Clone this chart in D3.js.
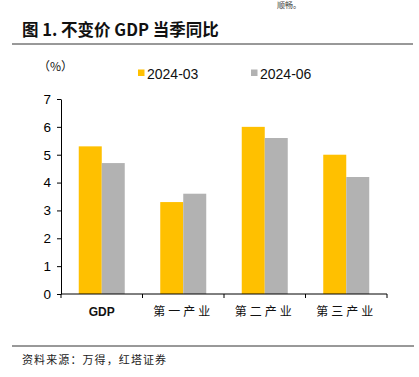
<!DOCTYPE html>
<html>
<head>
<meta charset="utf-8">
<script src="https://cdn.jsdelivr.net/npm/d3@7"></script>
<style>
  body { margin: 0; background: #fff; }
  svg { display: block; font-family: "Liberation Sans", Arial, sans-serif; }
</style>
</head>
<body>
<div id="chart"></div>
<script>
const categories = ["GDP", "第一产业", "第二产业", "第三产业"];
const seriesNames = ["2024-03", "2024-06"];
const q1Values = [5.3, 3.3, 6.0, 5.0];
const q2Values = [4.7, 3.6, 5.6, 4.2];
const yTicks = [0, 1, 2, 3, 4, 5, 6, 7];
const colors = ["#FFC000", "#B2B2B2"];

const W = 419, H = 377;
const svg = d3.select("#chart").append("svg")
    .attr("width", W)
    .attr("height", H);

// header
svg.append("text")
    .attr("x", 277).attr("y", 8)
    .attr("font-family", "Noto Sans CJK SC")
    .attr("font-size", 8).attr("fill", "#444")
    .text("顺畅。");

svg.append("text")
    .attr("x", 22).attr("y", 36)
    .attr("font-family", "Noto Sans CJK SC")
    .attr("font-weight", "bold")
    .attr("font-size", 16.5).attr("fill", "#111")
    .text("图 1. 不变价 GDP 当季同比");

svg.append("line")
    .attr("x1", 12).attr("x2", 413)
    .attr("y1", 44).attr("y2", 44)
    .attr("stroke", "#333").attr("stroke-width", 1);

const x0 = d3.scaleBand().domain(categories).range([61, 387]).paddingInner(0).paddingOuter(0);
const x1 = d3.scaleBand().domain(seriesNames).range([0, 46]);
const y = d3.scaleLinear().domain([0, 7]).range([294, 99]);

const g = svg.append("g");

// bars
const data = categories.map((c, i) => ({cat: c, vals: [q1Values[i], q2Values[i]]}));
const groups = g.selectAll(".grp").data(data).enter().append("g")
    .attr("transform", d => `translate(${x0(d.cat) + (x0.bandwidth() - 46) / 2},0)`);
groups.selectAll("rect").data(d => d.vals.map((v, j) => ({name: seriesNames[j], v, j})))
    .enter().append("rect")
    .attr("x", d => x1(d.name))
    .attr("width", x1.bandwidth())
    .attr("y", d => y(d.v))
    .attr("height", d => y(0) - y(d.v))
    .attr("fill", d => colors[d.j]);

// y axis
const yAxis = g.append("g")
    .attr("transform", "translate(61,0)")
    .call(d3.axisLeft(y).tickValues(yTicks).tickSize(4).tickSizeOuter(0).tickFormat(d3.format("d")));
yAxis.select(".domain").attr("stroke", "#000");
yAxis.selectAll(".tick line").attr("stroke", "#000");
yAxis.selectAll(".tick text").attr("font-size", 13.5).attr("fill", "#000").attr("x", -10);

// x axis
const xAxis = g.append("g").attr("transform", "translate(0,294)");
xAxis.append("line").attr("x1", 61).attr("x2", 387).attr("stroke", "#000");
const boundaries = categories.map(c => x0(c)).concat([x0.range()[1]]);
xAxis.selectAll(".xt").data(boundaries).enter().append("line")
    .attr("x1", d => d).attr("x2", d => d)
    .attr("y1", 0).attr("y2", 4)
    .attr("stroke", "#000");
xAxis.selectAll(".xl").data(categories).enter().append("text")
    .attr("x", d => x0(d) + x0.bandwidth() / 2)
    .attr("y", 22)
    .attr("text-anchor", "middle")
    .attr("font-size", 12)
    .attr("font-family", d => d === "GDP" ? "Liberation Sans Narrow, Liberation Sans" : "Noto Sans CJK SC")
    .attr("font-weight", d => d === "GDP" ? "bold" : "normal")
    .attr("letter-spacing", d => d === "GDP" ? 0 : 3)
    .attr("fill", "#111")
    .text(d => d);

// unit label
svg.append("text")
    .attr("x", 38).attr("y", 71)
    .attr("font-family", "Noto Sans CJK SC")
    .attr("font-size", 12).attr("fill", "#111")
    .text("（%）");

// legend
const legendX = [138, 251];
seriesNames.forEach((n, i) => {
    svg.append("rect")
        .attr("x", legendX[i]).attr("y", 69.5)
        .attr("width", 6.5).attr("height", 6.5)
        .attr("fill", colors[i]);
    svg.append("text")
        .attr("x", legendX[i] + 9).attr("y", 78.5)
        .attr("font-size", 14).attr("fill", "#111")
        .text(n);
});

// footer
svg.append("line")
    .attr("x1", 12).attr("x2", 414)
    .attr("y1", 346).attr("y2", 346)
    .attr("stroke", "#333").attr("stroke-width", 1);
svg.append("text")
    .attr("x", 22).attr("y", 364)
    .attr("font-family", "Noto Sans CJK SC")
    .attr("font-size", 11).attr("fill", "#222")
    .attr("letter-spacing", 1.1)
    .text("资料来源：万得，红塔证券");
</script>
</body>
</html>
